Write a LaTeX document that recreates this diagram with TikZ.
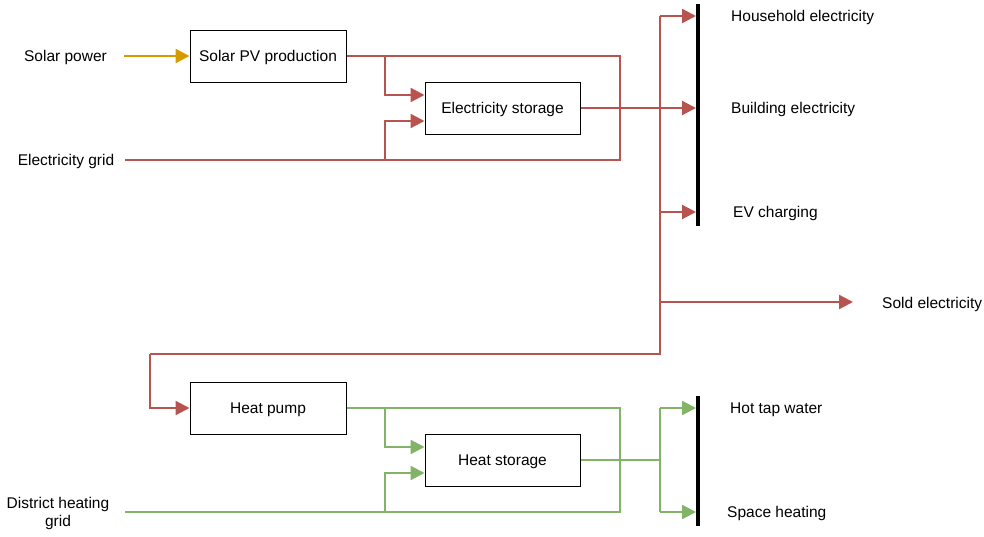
\documentclass[tikz,border=0pt]{standalone}
\usepackage{fontspec}
\setmainfont{Liberation Sans}
\usetikzlibrary{arrows.meta}
\definecolor{elec}{HTML}{B85450}
\definecolor{heat}{HTML}{82B366}
\definecolor{sun}{HTML}{D79B00}
\begin{document}
\begin{tikzpicture}[x=1pt,y=-1pt,
  font=\fontsize{15.5pt}{18pt}\selectfont,
  every node/.style={text height=11.1pt,text depth=0pt},
  box/.style={draw=black,line width=1pt,minimum width=156pt,minimum height=52pt,inner sep=0pt},
  lbl/.style={inner sep=0pt},
  flow/.style={line width=2.3pt},
  tip/.style={-{Triangle[length=14pt,width=14pt]}},
  ef/.style={flow,draw=elec},
  hf/.style={flow,draw=heat},
  sf/.style={flow,draw=sun},
  bar/.style={line width=3.5pt,draw=black}]
\useasboundingbox (0,0) rectangle (984,536);

% boxes
\node[box] (pv) at (268,56) {Solar PV production};
\node[box,minimum width=155pt] (es) at (502.5,108) {Electricity storage};
\node[box] (hp) at (268,408) {Heat pump};
\node[box,minimum width=155pt] (hs) at (502.5,460) {Heat storage};

% source labels
\node[lbl] (solar) at (65.5,56) {Solar power};
\node[lbl] (grid) at (66,160) {Electricity grid};
\node[lbl,align=center,text height=,text depth=] (dh) at (58,513.5) {District heating\\grid};

% sink labels
\node[lbl,anchor=west] (lhh) at (731,16) {Household electricity};
\node[lbl,anchor=west] (lbe) at (731,108) {Building electricity};
\node[lbl,anchor=west] (lev) at (733,212) {EV charging};
\node[lbl,anchor=west] (lsold) at (882,303) {Sold electricity};
\node[lbl,anchor=west] (lhw) at (730,408) {Hot tap water};
\node[lbl,anchor=west] (lsh) at (727,512) {Space heating};

% coordinates
\coordinate (solarout) at (124,56);
\coordinate (gridout) at (125,160);
\coordinate (dhout) at (125,512);
\coordinate (ej1) at (385,56);
\coordinate (ej2) at (385,160);
\coordinate (ec1) at (620,56);
\coordinate (ec2) at (620,160);
\coordinate (et1) at (660,16);
\coordinate (et3) at (660,212);
\coordinate (et4) at (660,302);
\coordinate (et5) at (660,354);
\coordinate (el) at (150,354);
\coordinate (hh) at (696,16);
\coordinate (be) at (696,108);
\coordinate (ev) at (696,212);
\coordinate (sold) at (853,302);
\coordinate (hj1) at (385,408);
\coordinate (hj2) at (385,512);
\coordinate (hc1) at (620,408);
\coordinate (hc2) at (620,512);
\coordinate (ht1) at (660,408);
\coordinate (ht2) at (660,512);
\coordinate (hw) at (696,408);
\coordinate (sh) at (696,512);
\coordinate (b1top) at (698,4);
\coordinate (b1bot) at (698,226);
\coordinate (b2top) at (698,396);
\coordinate (b2bot) at (698,526);

% bars
\draw[bar] (b1top) -- (b1bot);
\draw[bar] (b2top) -- (b2bot);

% solar
\draw[sf,tip] (solarout) -- (pv.west);

% electricity
\draw[ef] (pv.east) -- (ec1) -- (ec2) -- (gridout);
\draw[ef,tip] (ej1) |- ([yshift=13pt]es.west);
\draw[ef,tip] (ej2) |- ([yshift=-13pt]es.west);
\draw[ef,tip] (es.east) -- (be);
\draw[ef] (et1) -- (et5) -- (el);
\draw[ef,tip] (el) |- (hp.west);
\draw[ef,tip] (et1) -- (hh);
\draw[ef,tip] (et3) -- (ev);
\draw[ef,tip] (et4) -- (sold);

% heat
\draw[hf] (hp.east) -- (hc1) -- (hc2) -- (dhout);
\draw[hf,tip] (hj1) |- ([yshift=13pt]hs.west);
\draw[hf,tip] (hj2) |- ([yshift=-13pt]hs.west);
\draw[hf] (hs.east) -- (ht1 |- hs.east);
\draw[hf] (ht1) -- (ht2);
\draw[hf,tip] (ht1) -- (hw);
\draw[hf,tip] (ht2) -- (sh);
\end{tikzpicture}
\end{document}
